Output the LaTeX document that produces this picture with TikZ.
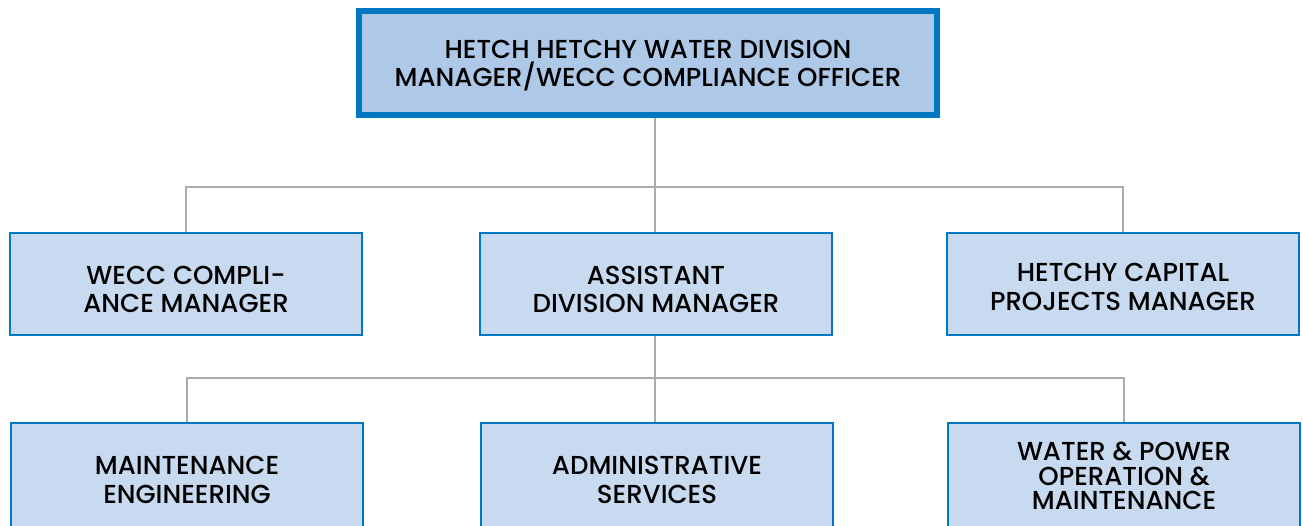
\documentclass[tikz,border=0pt]{standalone}
\usepackage{fontspec}
\setmainfont{Poppins}[UprightFont={* Medium}]
\usetikzlibrary{positioning}

\definecolor{hhblue}{HTML}{0077C0}
\definecolor{hhfill}{HTML}{AEC8E8}
\definecolor{hhpale}{HTML}{C8DAEF}
\definecolor{hhgray}{HTML}{ABABAB}

\newcommand{\unittext}[2]{\raisebox{#1}[0pt][0pt]{\makebox[0pt]{\parbox{560pt}{\centering #2}}}}

\tikzset{
  unit/.style={draw=hhblue, fill=hhpale, line width=2pt, align=center,
    minimum width=352pt, minimum height=102pt, inner sep=0pt,
    font=\fontsize{26}{28.5}\selectfont},
  lowunit/.style={unit, minimum height=110pt},
  headunit/.style={unit, fill=hhfill, line width=6pt,
    minimum width=578pt, minimum height=104pt},
  link/.style={draw=hhgray, line width=2.5pt}
}

\begin{document}
\begin{tikzpicture}[x=1pt,y=-1pt]
    \useasboundingbox (0,0) rectangle (1303,525);

    % top
    \node[headunit] (hd) at (648,63) {\unittext{-9pt}{HETCH HETCHY WATER DIVISION\\MANAGER/WECC COMPLIANCE OFFICER}};

    % second row
    \node[unit] (wecc) at (186,284) {\unittext{-11.5pt}{WECC COMPLI-\\ANCE MANAGER}};
    \node[unit] (adm) at (656,284) {\unittext{-11.5pt}{ASSISTANT\\DIVISION MANAGER}};
    \node[unit] (hcp) at (1123,284) {\unittext{-9pt}{HETCHY CAPITAL\\PROJECTS MANAGER}};

    % third row (runs off the bottom edge)
    \node[lowunit] (me) at (187,478) {\unittext{-8pt}{MAINTENANCE\\ENGINEERING}};
    \node[lowunit] (as) at (657,478) {\unittext{-8pt}{ADMINISTRATIVE\\SERVICES}};
    \node[lowunit, font=\fontsize{26}{24.5}\selectfont] (wpo) at (1124,478) {\unittext{-4.5pt}{WATER \& POWER\\OPERATION \&\\MAINTENANCE}};

    % connectors
    \coordinate (busA) at (655,187);
    \coordinate (busB) at (655,378);
    \draw[link] (busA |- hd.south) -- (busA |- adm.north);
    \draw[link] (wecc.north) |- (busA) -| (hcp.north);
    \draw[link] (busB |- adm.south) -- (busB |- as.north);
    \draw[link] (me.north) |- (busB) -| (wpo.north);

\end{tikzpicture}
\end{document}
